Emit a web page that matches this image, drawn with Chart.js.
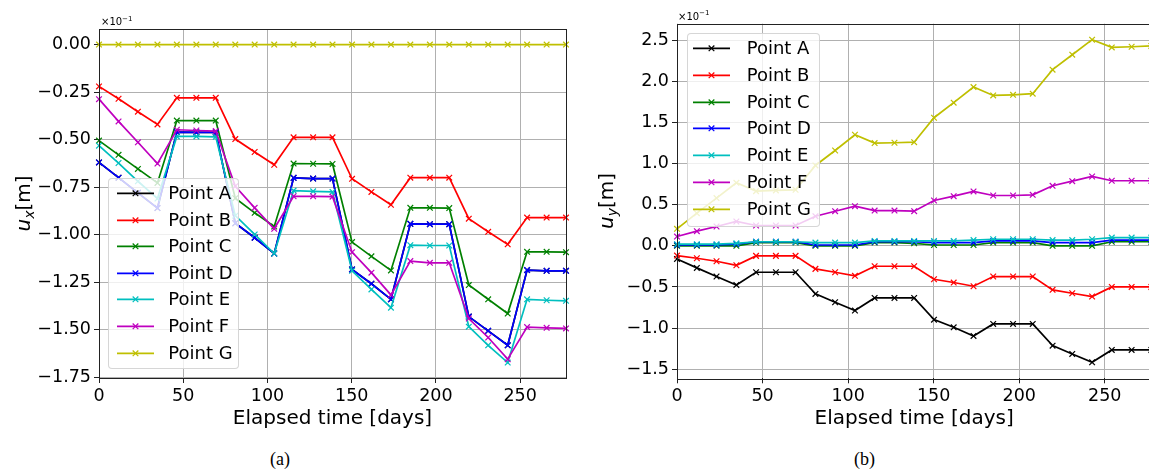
<!DOCTYPE html>
<html>
<head>
<meta charset="utf-8">
<script src="https://cdn.jsdelivr.net/npm/chart.js@4.4.1/dist/chart.umd.min.js"></script>
<style>
  html, body { margin: 0; padding: 0; background: #fff; overflow: hidden; width: 1149px; height: 474px; }
  canvas { position: absolute; top: 0; }
  #chartA { left: 0; }
  #chartB { left: 580px; }
  .legend { position: absolute; background: rgba(255,255,255,0.8); border: 1px solid rgba(204,204,204,0.8);
            border-radius: 4px; box-sizing: border-box; font-family: "DejaVu Sans"; font-size: 18px; color: #000; }
  .legend .row { position: absolute; left: 0; width: 100%; height: 26.6px; line-height: 26.6px; white-space: nowrap; }
  .legend svg { position: absolute; top: 0; }
  .legend span { position: absolute; top: 0; }
  .cap { position: absolute; top: 449px; font-family: "Liberation Serif"; font-size: 18px; color: #000; }
</style>
</head>
<body>
<canvas id="chartA" width="580" height="440"></canvas>
<canvas id="chartB" width="580" height="440"></canvas>
<div class="cap" style="left:270px">(a)</div>
<div class="cap" style="left:854px">(b)</div>

<script>
// elapsed time of each acquisition [days]
const days = [0, 11.6, 23.1, 34.7, 46.2, 57.8, 69.3, 80.9, 92.4, 104.0, 115.5, 127.1, 138.6,
              150.2, 161.7, 173.3, 184.8, 196.4, 207.9, 219.5, 231.0, 242.6, 254.1, 265.7, 277.2];

const pointNames = ['Point A', 'Point B', 'Point C', 'Point D', 'Point E', 'Point F', 'Point G'];
const pointColors = ['#000000', '#ff0000', '#008000', '#0000ff', '#00bfbf', '#bf00bf', '#bfbf00'];

// u_x values (x 10^-1 m)
const uxA = [-0.62, -0.70, -0.78, -0.86, -0.46, -0.462, -0.462, -0.94, -1.016, -1.099, -0.701, -0.705, -0.705,
             -1.183, -1.258, -1.34, -0.943, -0.945, -0.945, -1.431, -1.506, -1.582, -1.186, -1.19, -1.19];
const uxB = [-0.22, -0.285, -0.353, -0.42, -0.28, -0.28, -0.28, -0.497, -0.565, -0.632, -0.488, -0.488, -0.488,
             -0.706, -0.775, -0.843, -0.70, -0.70, -0.70, -0.916, -0.985, -1.051, -0.91, -0.91, -0.91];
const uxC = [-0.505, -0.58, -0.654, -0.728, -0.40, -0.40, -0.40, -0.808, -0.885, -0.957, -0.626, -0.627, -0.628,
             -1.039, -1.114, -1.188, -0.859, -0.859, -0.86, -1.265, -1.34, -1.415, -1.09, -1.09, -1.092];
const uxD = [-0.62, -0.70, -0.78, -0.86, -0.46, -0.462, -0.462, -0.94, -1.016, -1.099, -0.701, -0.705, -0.705,
             -1.183, -1.258, -1.34, -0.943, -0.945, -0.945, -1.431, -1.506, -1.582, -1.186, -1.19, -1.19];
const uxE = [-0.532, -0.623, -0.719, -0.81, -0.483, -0.483, -0.485, -0.90, -0.999, -1.099, -0.768, -0.772, -0.775,
             -1.19, -1.288, -1.384, -1.055, -1.057, -1.057, -1.484, -1.582, -1.673, -1.34, -1.345, -1.348];
const uxF = [-0.287, -0.404, -0.514, -0.626, -0.448, -0.452, -0.455, -0.745, -0.859, -0.969, -0.798, -0.798, -0.80,
             -1.092, -1.20, -1.317, -1.139, -1.148, -1.148, -1.441, -1.541, -1.655, -1.486, -1.49, -1.493];
const uxG = [0, 0, 0, 0, 0, 0, 0, 0, 0, 0, 0, 0, 0, 0, 0, 0, 0, 0, 0, 0, 0, 0, 0, 0, 0];

// u_y values (x 10^-1 m)
const uyA = [-0.159, -0.268, -0.373, -0.475, -0.321, -0.321, -0.321, -0.584, -0.686, -0.787, -0.633, -0.633, -0.633,
             -0.897, -0.99, -1.095, -0.949, -0.949, -0.949, -1.213, -1.314, -1.416, -1.265, -1.265, -1.265];
const uyB = [-0.118, -0.151, -0.187, -0.236, -0.122, -0.122, -0.122, -0.28, -0.321, -0.365, -0.248, -0.248, -0.248,
             -0.406, -0.446, -0.491, -0.373, -0.373, -0.373, -0.535, -0.576, -0.616, -0.499, -0.499, -0.499];
const uyC = [0.0, 0.0, 0.0, 0.0, 0.04, 0.04, 0.04, 0.0, 0.0, 0.0, 0.04, 0.04, 0.03,
             0.01, 0.01, 0.01, 0.04, 0.04, 0.04, 0.0, 0.0, 0.0, 0.05, 0.05, 0.05];
const uyD = [0.01, 0.01, 0.01, 0.02, 0.05, 0.05, 0.05, 0.01, 0.01, 0.01, 0.05, 0.05, 0.05,
             0.04, 0.04, 0.04, 0.06, 0.06, 0.06, 0.04, 0.04, 0.04, 0.07, 0.07, 0.07];
const uyE = [0.02, 0.02, 0.02, 0.03, 0.05, 0.05, 0.05, 0.04, 0.04, 0.04, 0.06, 0.06, 0.06,
             0.06, 0.06, 0.07, 0.08, 0.08, 0.08, 0.07, 0.07, 0.08, 0.10, 0.10, 0.10];
const uyF = [0.113, 0.178, 0.235, 0.296, 0.247, 0.247, 0.247, 0.36, 0.421, 0.482, 0.429, 0.429, 0.421,
             0.551, 0.604, 0.661, 0.612, 0.612, 0.62, 0.73, 0.786, 0.843, 0.791, 0.791, 0.791];
const uyG = [0.207, 0.397, 0.58, 0.766, 0.665, 0.673, 0.681, 0.977, 1.159, 1.35, 1.249, 1.253, 1.26,
             1.557, 1.74, 1.93, 1.828, 1.836, 1.849, 2.141, 2.323, 2.506, 2.412, 2.42, 2.43];

// tick labels
const dayTicks = [0, 50, 100, 150, 200, 250];
const uxTicks = [0, -0.25, -0.5, -0.75, -1.0, -1.25, -1.5, -1.75];
const uyTicks = [2.5, 2.0, 1.5, 1.0, 0.5, 0.0, -0.5, -1.0, -1.5];

const FONT = '"DejaVu Sans"';

function minus(s) { return s.replace('-', '\u2212'); }

function makeDatasets(series) {
  return series.map((vals, i) => ({
    label: pointNames[i],
    data: days.map((d, k) => ({ x: d, y: vals[k] })),
    borderColor: pointColors[i],
    backgroundColor: pointColors[i],
    borderWidth: 1.7,
    pointStyle: 'crossRot',
    pointRadius: 4,
    pointBorderWidth: 1.2,
    tension: 0,
    clip: false,
    order: series.length - i
  }));
}

// frame, offset text "x10^-1" and the y axis label with subscript
function decor(sub, labelX, offX, offY) {
  return {
    id: 'decor',
    afterDraw(chart) {
      const { ctx, chartArea: a } = chart;
      ctx.save();
      ctx.strokeStyle = '#222';
      ctx.lineWidth = 1;
      ctx.strokeRect(Math.round(a.left) + 0.5, Math.round(a.top) + 0.5,
                     Math.round(a.right - a.left), Math.round(a.bottom - a.top));

      ctx.fillStyle = '#000';
      ctx.textBaseline = 'alphabetic';
      ctx.textAlign = 'left';
      ctx.font = '10px ' + FONT;
      ctx.fillText('\u00d710', offX, offY);
      const w = ctx.measureText('\u00d710').width;
      ctx.font = '7px ' + FONT;
      ctx.fillText('\u22121', offX + w, offY - 4.5);

      ctx.translate(labelX, (a.top + a.bottom) / 2);
      ctx.rotate(-Math.PI / 2);
      const fU = 'oblique 20px ' + FONT, fS = 'oblique 14px ' + FONT, fM = '20px ' + FONT;
      ctx.font = fU; const wU = ctx.measureText('u').width;
      ctx.font = fS; const wS = ctx.measureText(sub).width;
      ctx.font = fM; const wM = ctx.measureText('[m]').width;
      let x = -(wU + wS + wM) / 2;
      ctx.font = fU; ctx.fillText('u', x, 0); x += wU;
      ctx.font = fS; ctx.fillText(sub, x, 4); x += wS;
      ctx.font = fM; ctx.fillText('[m]', x, 0);
      ctx.restore();
    }
  };
}

function makeChart(id, series, yTicks, yMin, yMax, digits, pad, yWidth, xHeight, plugin) {
  return new Chart(document.getElementById(id), {
    type: 'line',
    data: { datasets: makeDatasets(series) },
    options: {
      responsive: false,
      animation: false,
      events: [],
      layout: { padding: pad },
      plugins: { legend: { display: false }, tooltip: { enabled: false } },
      scales: {
        x: {
          type: 'linear', min: 0, max: 277.2,
          afterBuildTicks: s => { s.ticks = dayTicks.map(v => ({ value: v })); },
          afterFit: s => { s.height = xHeight; },
          grid: { color: '#b0b0b0', lineWidth: 1, tickLength: 5, tickColor: '#222' },
          border: { display: false },
          ticks: { color: '#000', padding: 3, maxRotation: 0, font: { family: FONT, size: 17.5 } },
          title: { display: true, text: 'Elapsed time [days]', color: '#000',
                   font: { family: FONT, size: 20 }, padding: { top: 0, bottom: 9 } }
        },
        y: {
          type: 'linear', min: yMin, max: yMax,
          afterBuildTicks: s => { s.ticks = yTicks.map(v => ({ value: v })); },
          afterFit: s => { s.width = yWidth; },
          grid: { color: '#b0b0b0', lineWidth: 1, tickLength: 5, tickColor: '#222' },
          border: { display: false },
          ticks: { color: '#000', padding: 3, font: { family: FONT, size: 17.5 },
                   callback: v => minus(Number(v).toFixed(digits)) }
        }
      }
    },
    plugins: [plugin]
  });
}

makeChart('chartA', [uxA, uxB, uxC, uxD, uxE, uxF, uxG], uxTicks, -1.754, 0.082, 2,
          { top: 29, right: 14, left: 0, bottom: 0 }, 99, 62, decor('x', 30, 101, 25));
makeChart('chartB', [uyA, uyB, uyC, uyD, uyE, uyF, uyG], uyTicks, -1.61, 2.70, 1,
          { top: 23.7, right: 8.7, left: 0, bottom: 0 }, 97, 61.7, decor('y', 33, 98, 19.5));

// legends
function buildLegend(left, top, width, height, step, sampleLeft, textLeft) {
  const box = document.createElement('div');
  box.className = 'legend';
  Object.assign(box.style, { left: left + 'px', top: top + 'px', width: width + 'px', height: height + 'px' });
  pointNames.forEach((name, i) => {
    const row = document.createElement('div');
    row.className = 'row';
    row.style.top = (1.3 + step * i) + 'px';
    const c = pointColors[i];
    row.innerHTML =
      `<svg width="37" height="26.6" style="left:${sampleLeft}px">
         <line x1="0" y1="13.3" x2="37" y2="13.3" stroke="${c}" stroke-width="1.7"/>
         <line x1="15.7" y1="10.5" x2="21.3" y2="16.1" stroke="${c}" stroke-width="1.2"/>
         <line x1="15.7" y1="16.1" x2="21.3" y2="10.5" stroke="${c}" stroke-width="1.2"/>
       </svg><span style="left:${textLeft}px">${name}</span>`;
    box.appendChild(row);
  });
  document.body.appendChild(box);
}

buildLegend(108, 177.7, 131, 191.3, 26.6, 7.7, 59.3);
buildLegend(686.7, 32.7, 133.3, 194, 26.8, 5.6, 59);
</script>
</body>
</html>
